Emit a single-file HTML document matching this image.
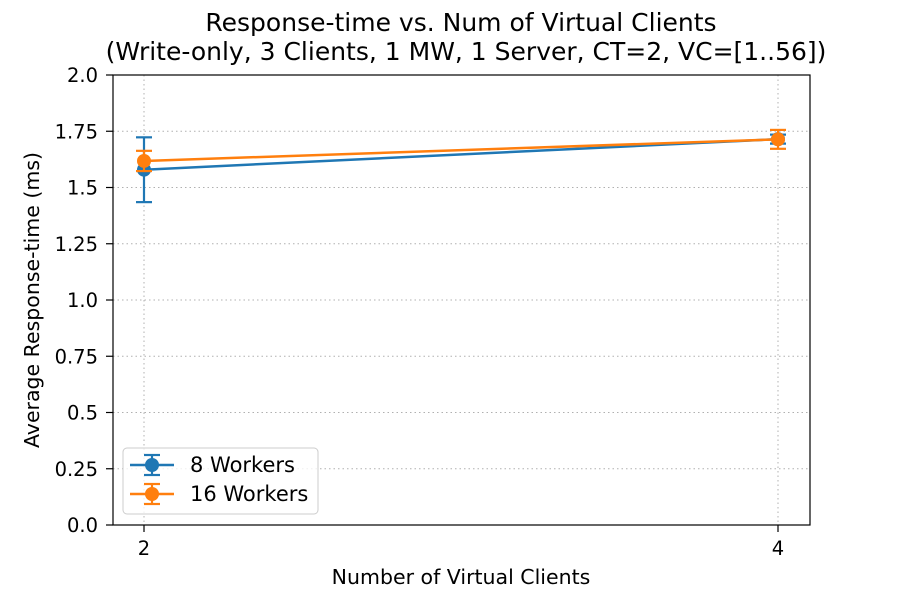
<!DOCTYPE html>
<html><head><meta charset="utf-8"><style>body{margin:0;background:#fff}svg{display:block;font-family:"DejaVu Sans","Liberation Sans",sans-serif}</style></head>
<body>
<svg id="chart" width="900" height="600">
<rect width="900" height="600" fill="#fff"/>
<g id="grid"></g>
<g id="series"></g>
<rect x="113" y="75" width="697" height="450" fill="none" stroke="#000" stroke-width="1.2"/>
<g id="axes" font-size="19.5"></g>
<text x="461" y="31" font-size="25" text-anchor="middle">Response-time vs. Num of Virtual Clients</text>
<text x="466" y="60" font-size="25" text-anchor="middle">(Write-only, 3 Clients, 1 MW, 1 Server, CT=2, VC=[1..56])</text>
<text x="461" y="584" font-size="20.5" text-anchor="middle">Number of Virtual Clients</text>
<text transform="translate(39,300) rotate(-90)" font-size="20.5" text-anchor="middle">Average Response-time (ms)</text>
<g id="legend"></g>
</svg>
<script>
const categories=[2,4];
const yTicks=[0,0.25,0.5,0.75,1.0,1.25,1.5,1.75,2.0];
const yTickLabels=["0.0","0.25","0.5","0.75","1.0","1.25","1.5","1.75","2.0"];
const seriesNames=["8 Workers","16 Workers"];
const w8Values=[1.579,1.715];
const w8Err=[0.144,0.02];
const w16Values=[1.618,1.714];
const w16Err=[0.045,0.042];
const colors=["#1f77b4","#ff7f0e"];
const NS="http://www.w3.org/2000/svg";
const X=v=>144+(v-2)*317, Y=v=>525-v*225;
function mk(p,t,a){const e=document.createElementNS(NS,t);for(const k in a)e.setAttribute(k,a[k]);p.appendChild(e);return e;}
const grid=document.getElementById('grid'),axes=document.getElementById('axes'),ser=document.getElementById('series'),leg=document.getElementById('legend');
yTicks.forEach((t,i)=>{
 const g=mk(grid,'line',{x1:113,x2:810,y1:Y(t),y2:Y(t),stroke:'#b0b0b0','stroke-dasharray':'1.5,3'});
 
 
 mk(axes,'line',{x1:106,x2:113,y1:Y(t),y2:Y(t),stroke:'#000','stroke-width':1.2});
 const tx=mk(axes,'text',{x:98,y:Y(t)+7,'text-anchor':'end'});tx.textContent=yTickLabels[i];
 
 
});
categories.forEach(c=>{
 const g=mk(grid,'line',{x1:X(c),x2:X(c),y1:75,y2:525,stroke:'#b0b0b0','stroke-dasharray':'1.5,3'});
 
 
 mk(axes,'line',{x1:X(c),x2:X(c),y1:525,y2:532,stroke:'#000','stroke-width':1.2});
 const tx=mk(axes,'text',{x:X(c),y:555,'text-anchor':'middle'});tx.textContent=c;
 
 
});
[[w8Values,w8Err],[w16Values,w16Err]].forEach(([vals,err],s)=>{
 const g=mk(ser,'g',{});
 
 
 const col=colors[s];
 mk(g,'polyline',{points:categories.map((c,i)=>X(c)+','+Y(vals[i])).join(' '),fill:'none',stroke:col,'stroke-width':2.5});
 categories.forEach((c,i)=>{
  const x=X(c),t=Y(vals[i]+err[i]),b=Y(vals[i]-err[i]);
  mk(g,'line',{x1:x,x2:x,y1:t,y2:b,stroke:col,'stroke-width':2.2});
  mk(g,'line',{x1:x-8,x2:x+8,y1:t,y2:t,stroke:col,'stroke-width':2.2});
  mk(g,'line',{x1:x-8,x2:x+8,y1:b,y2:b,stroke:col,'stroke-width':2.2});
  const p=mk(g,'circle',{cx:x,cy:Y(vals[i]),r:7,fill:col});
  
  
 });
});
mk(leg,'rect',{x:123,y:448,width:195,height:66,rx:4,fill:'#fff','fill-opacity':0.8,stroke:'#ccc'});
seriesNames.forEach((n,i)=>{
 const y=465+i*29,col=colors[i];
 mk(leg,'line',{x1:130,x2:174,y1:y,y2:y,stroke:col,'stroke-width':2.5});
 mk(leg,'line',{x1:152,x2:152,y1:y-10,y2:y+10,stroke:col,'stroke-width':2.2});
 mk(leg,'line',{x1:144,x2:160,y1:y-10,y2:y-10,stroke:col,'stroke-width':2.2});
 mk(leg,'line',{x1:144,x2:160,y1:y+10,y2:y+10,stroke:col,'stroke-width':2.2});
 mk(leg,'circle',{cx:152,cy:y,r:7,fill:col});
 const t=mk(leg,'text',{x:190,y:y+7,'font-size':21});t.textContent=n;
 
 
});
</script>
</body></html>
